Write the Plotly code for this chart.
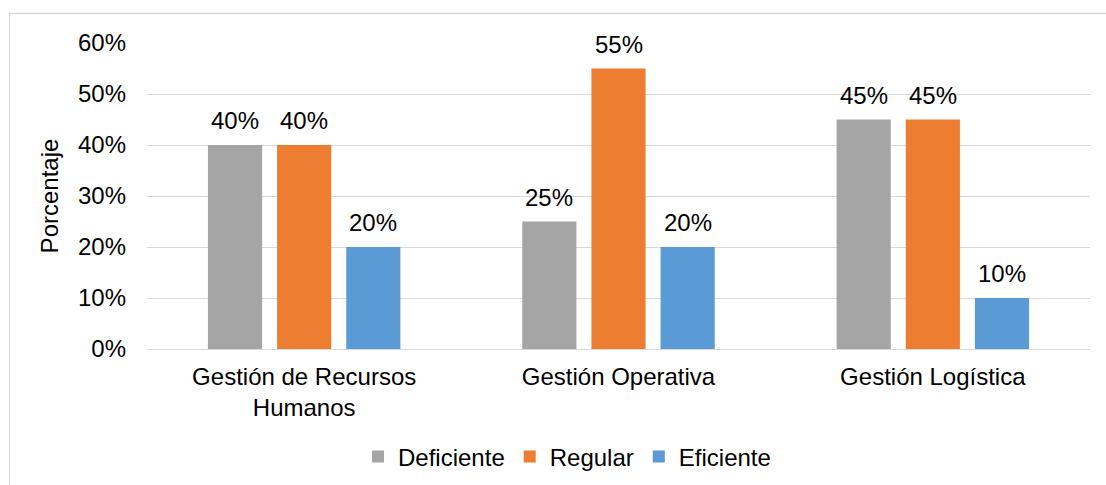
import plotly.graph_objects as go

categories = ["Gestión de Recursos<br>Humanos", "Gestión Operativa", "Gestión Logística"]
series_names = ["Deficiente", "Regular", "Eficiente"]
deficiente = [0.40, 0.25, 0.45]
regular = [0.40, 0.55, 0.45]
eficiente = [0.20, 0.20, 0.10]
colors = ["#A5A5A5", "#ED7D31", "#5B9BD5"]
y_ticks = [0, 0.1, 0.2, 0.3, 0.4, 0.5, 0.6]

FONT = "Liberation Sans, Arial, sans-serif"
FS = 24

W, H = 1106, 485
ML, MR, MT, MB = 147, 16, 43, 136
PW, PH = W - ML - MR, H - MT - MB
BARGAP, GROUPGAP = 0.34, 0.217

fig = go.Figure()
all_series = [deficiente, regular, eficiente]
for name, vals, col in zip(series_names, all_series, colors):
    fig.add_trace(go.Bar(
        x=categories, y=vals, name=name,
        marker=dict(color=col, line=dict(width=0)),
    ))

# value labels above each bar, offset to the bar's slot within the group
slot_px = PW / len(categories) * (1 - BARGAP) / len(series_names)
for i, vals in enumerate(all_series):
    for cat, v in zip(categories, vals):
        fig.add_annotation(
            x=cat, y=v, text=f"{v:.0%}", showarrow=False,
            xshift=(i - 1) * slot_px, yshift=9, yanchor="bottom",
            font=dict(family=FONT, size=FS, color="#000000"),
        )

# outer chart border (pixel coordinates converted to paper units)
def px_x(px):
    return (px - ML) / PW

def px_y(py):
    return (H - MB - py) / PH

fig.add_shape(type="rect", xref="paper", yref="paper",
              x0=px_x(9.5), x1=px_x(1120), y0=px_y(13.5), y1=px_y(500),
              line=dict(color="#D9D9D9", width=1.3), fillcolor="rgba(0,0,0,0)", layer="below")

fig.update_layout(
    width=W, height=H,
    margin=dict(l=ML, r=MR, t=MT, b=MB, autoexpand=False),
    paper_bgcolor="white", plot_bgcolor="white",
    barmode="group", bargap=BARGAP, bargroupgap=GROUPGAP,
    font=dict(family=FONT, size=FS, color="#000000"),
    showlegend=True,
    legend=dict(orientation="h", x=px_x(567), xanchor="center", y=px_y(457), yanchor="middle",
                font=dict(family=FONT, size=FS, color="#000000"),
                traceorder="normal"),
)
fig.update_yaxes(
    range=[0, 0.6], tickvals=y_ticks, tickformat=".0%",
    showgrid=True, gridcolor="#D9D9D9", gridwidth=1.3,
    zeroline=True, zerolinecolor="#D9D9D9", zerolinewidth=1.3,
    showline=False, ticks="", ticklabelstandoff=20,
    tickfont=dict(family=FONT, size=FS, color="#000000"),
    title=dict(text="Porcentaje", standoff=12, font=dict(family=FONT, size=FS, color="#000000")),
    fixedrange=True,
)
fig.update_xaxes(
    showgrid=False, showline=False, ticks="", ticklabelstandoff=11,
    tickfont=dict(family=FONT, size=FS, color="#000000"),
    fixedrange=True,
)

fig.write_html("out.html")
